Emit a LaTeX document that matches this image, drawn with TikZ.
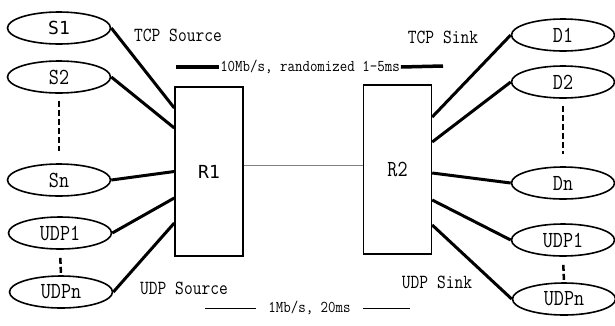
\documentclass[tikz,border=0pt]{standalone}
\usepackage{fontspec}
\usepackage{graphicx}
\newfontfamily\consfont{DejaVu Sans Mono}
\newcommand{\narrow}[1]{\scalebox{0.85}[1]{#1}}
\usetikzlibrary{shapes}

\begin{document}
\begin{tikzpicture}[x=1pt,y=-1pt,
    host/.style={ellipse,draw,line width=1.6pt,minimum width=103pt,
                 minimum height=32pt,inner sep=0pt,
                 font=\fontsize{23}{23}\selectfont\ttfamily},
    router/.style={rectangle,draw,line width=1.4pt,minimum width=68pt,
                   minimum height=169pt,inner sep=0pt},
    link/.style={line width=3pt},
    more/.style={line width=2.5pt,dash pattern=on 6pt off 3pt},
    note/.style={font=\fontsize{20}{20}\selectfont\ttfamily},
    rate/.style={font=\fontsize{16.5}{17}\selectfont\ttfamily,inner sep=1pt}]

  \useasboundingbox (0,0) rectangle (615,325);

  % routers
  \node[router] (R1) at (209,171.5) {\consfont\fontsize{18}{18}\selectfont R1};
  \node[router] (R2) at (397.5,169.5) {\ttfamily\fontsize{23}{23}\selectfont\narrow{R2}};

  % sources
  \node[host] (S1)  at (59,28)  {\consfont\fontsize{18}{18}\selectfont S1};
  \node[host] (S2)  at (59,77)  {\narrow{S2}};
  \node[host] (Sn)  at (59,180) {\narrow{Sn}};
  \node[host] (U1)  at (60,233) {\narrow{UDP1}};
  \node[host] (Un)  at (61,292) {\narrow{UDPn}};

  % sinks
  \node[host] (D1)  at (563,35)  {\narrow{D1}};
  \node[host] (D2)  at (563,82)  {\narrow{D2}};
  \node[host] (Dn)  at (563,183) {\narrow{Dn}};
  \node[host] (V1)  at (563,240) {\narrow{UDP1}};
  \node[host] (Vn)  at (564,299) {\narrow{UDPn}};

  \path[link] (S1.east) edge ([yshift=63.5pt]R1.west)
              (S2.east) edge ([yshift=43.5pt]R1.west)
              (Sn.east) edge (R1.west)
              (U1.east) edge ([yshift=-26.5pt]R1.west)
              (Un.east) edge ([yshift=-51.5pt]R1.west);

  \path[link] ([yshift=52.5pt]R2.east)  edge (D1.west)
              ([yshift=27.5pt]R2.east)  edge (D2.west)
              ([yshift=-3.5pt]R2.east)  edge (Dn.west)
              ([yshift=-30.5pt]R2.east) edge (V1.west)
              ([yshift=-55.5pt]R2.east) edge (Vn.west);

  \draw[gray,line width=0.8pt] ([yshift=6.5pt]R1.east) -- ([yshift=4.5pt]R2.west);

  % the dots
  \draw[more,shorten <=7pt,shorten >=12pt] (S2.south) -- (Sn.north);
  \draw[more,shorten <=7pt,shorten >=12pt] (D2.south) -- (Dn.north);
  \draw[more,shorten <=8pt,shorten >=2pt] (U1.south) -- (Un.north);
  \draw[more,shorten <=8pt,shorten >=2pt] (V1.south) -- (Vn.north);

  % labels
  \node[note] (tcpsrc) at (178,35)  {\narrow{TCP Source}};
  \node[note] (tcpsnk) at (443,37)  {\narrow{TCP Sink}};
  \node[note] (udpsrc) at (184,288) {\narrow{UDP Source}};
  \node[note] (udpsnk) at (437,282) {\narrow{UDP Sink}};

  \node[rate] (fast) at (310,67) {\scalebox{0.88}[1]{10Mb/s, randomized 1-5ms}};
  \coordinate (fastL) at (176,67);
  \coordinate (fastR) at (443,66);
  \draw[line width=3.5pt] (fastL) -- (fast.west);
  \draw[line width=3.5pt] (fast.east) -- (fastR);

  \node[rate,inner xsep=12pt] (slow) at (309.5,308) {\scalebox{0.88}[1]{1Mb/s, 20ms}};
  \coordinate (slowL) at (205,308);
  \coordinate (slowR) at (410,308);
  \draw[line width=0.8pt] (slowL) -- (slow.west);
  \draw[line width=0.8pt] (slow.east) -- (slowR);
\end{tikzpicture}
\end{document}
